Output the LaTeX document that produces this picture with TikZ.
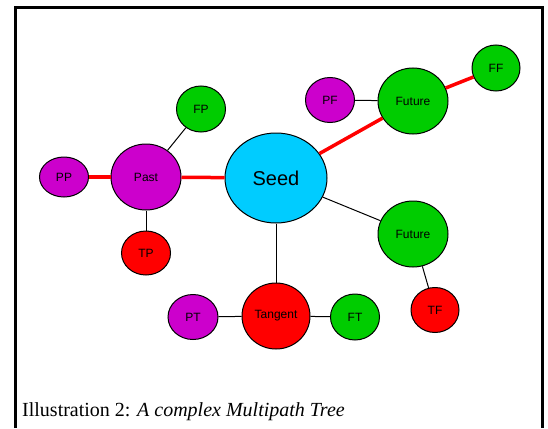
\documentclass[tikz,border=0pt]{standalone}
\usepackage{fontspec}
\setmainfont{Liberation Serif}
\setsansfont{Liberation Sans}
\usetikzlibrary{shapes.geometric}
\definecolor{seedblue}{RGB}{0,204,255}
\definecolor{futgreen}{RGB}{0,204,0}
\definecolor{pastpurple}{RGB}{204,0,204}
\definecolor{tanred}{RGB}{255,0,0}
\begin{document}
\begin{tikzpicture}[x=1pt,y=-1pt,
node_style/.style={ellipse,draw=black,line width=1pt,inner sep=0pt,font=\sffamily\fontsize{12}{14}\selectfont},
big_style/.style={node_style,minimum width=70pt,minimum height=66pt},
small_style/.style={node_style,minimum width=49pt,minimum height=45pt},
edge_style/.style={draw=black,line width=1pt},
path_style/.style={draw=tanred,line width=3.5pt}]
\useasboundingbox (0,0) rectangle (548,428);
\draw[line width=3pt] (15.5,428) |- (542.5,7.5) -- (542.5,428);

\node[node_style,fill=seedblue,minimum width=102pt,minimum height=90pt,font=\sffamily\fontsize{20}{24}\selectfont] (seed) at (276,178) {Seed};
\node[big_style,fill=pastpurple] (past) at (146,177) {Past};
\node[big_style,fill=futgreen] (fut1) at (413,101) {Future};
\node[big_style,fill=futgreen] (fut2) at (413,234) {Future};
\node[big_style,fill=tanred,minimum width=68pt] (tan) at (276,316) {Tangent};
\node[small_style,fill=pastpurple,minimum height=40pt] (pp) at (64,177) {PP};
\node[small_style,fill=futgreen,minimum height=46pt] (fp) at (201,109) {FP};
\node[small_style,fill=tanred,minimum height=44pt] (tp) at (146,253) {TP};
\node[small_style,fill=pastpurple] (pf) at (330,100) {PF};
\node[small_style,fill=futgreen,minimum width=48pt,minimum height=46pt] (ff) at (496,68) {FF};
\node[small_style,fill=tanred,minimum width=48pt] (tf) at (435,310) {TF};
\node[small_style,fill=pastpurple,minimum width=50pt] (pt) at (193,317) {PT};
\node[small_style,fill=futgreen,minimum height=46pt] (ft) at (355,317) {FT};

\draw[path_style]  (pp) edge node{} (past);
\draw[path_style]  (past) edge node{} (seed);
\draw[path_style]  (seed) edge node{} (fut1);
\draw[path_style]  (fut1) edge node{} (ff);
\draw[edge_style]  (past) edge node{} (fp);
\draw[edge_style]  (past) edge node{} (tp);
\draw[edge_style]  (pf) edge node{} (fut1);
\draw[edge_style]  (seed) edge node{} (fut2);
\draw[edge_style]  (fut2) edge node{} (tf);
\draw[edge_style]  (seed) edge node{} (tan);
\draw[edge_style]  (pt) edge node{} (tan);
\draw[edge_style]  (tan) edge node{} (ft);

\node[anchor=base west,inner sep=0pt,font=\fontsize{20}{24}\selectfont] (caption) at (22,416) {Illustration 2: \textit{A complex Multipath Tree}};
\end{tikzpicture}
\end{document}
